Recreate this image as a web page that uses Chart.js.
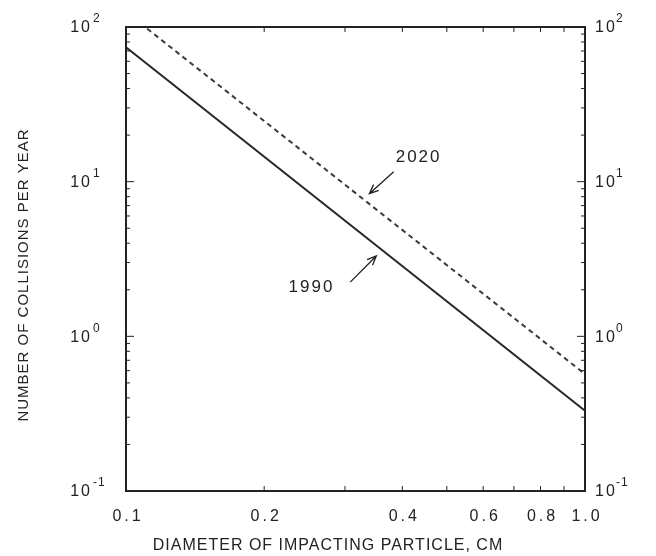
<!DOCTYPE html>
<html>
<head>
  <style>
    body {
        margin: 0;
        background: #fff;
    }
    #chart {
        display: block;
    }
  </style>
</head>
<body>
    <canvas id="chart" width="656" height="556"></canvas>

    <script src="https://cdn.jsdelivr.net/npm/chart.js"></script>
    <script>
        // values (log-log, two end points per line)
        const diameters = [0.1, 1.0];
        const collisions1990 = [74, 0.33];
        const collisions2020 = [125, 0.57];

        const xTickLabels = [0.1, 0.2, 0.4, 0.6, 0.8, 1.0];
        const xMinorTicks = [0.2, 0.3, 0.4, 0.5, 0.6, 0.7, 0.8, 0.9];
        const yDecades = [0.1, 1, 10, 100];
        const yExponents = ['-1', '0', '1', '2'];
        const yMinorTicks = [0.2, 0.3, 0.4, 0.5, 0.6, 0.7, 0.8, 0.9,
                             2, 3, 4, 5, 6, 7, 8, 9,
                             20, 30, 40, 50, 60, 70, 80, 90];

        // labels with arrows, in data units
        const noteText = ['2020', '1990'];
        const noteAt = [[0.434, 14.3], [0.2535, 2.08]];
        const arrowFrom = [[0.383, 11.6], [0.308, 2.24]];
        const arrowTo = [[0.339, 8.36], [0.351, 3.31]];

        const FONT = "'Liberation Sans', Arial, sans-serif";
        const INK = '#222';

        function toPoints(ys) {
            return diameters.map((x, i) => ({ x: x, y: ys[i] }));
        }

        const plotterText = {
            id: 'plotterText',
            afterDraw(chart) {
                const ctx = chart.ctx;
                const a = chart.chartArea;
                const sx = chart.scales.x;
                const sy = chart.scales.y;
                ctx.save();
                ctx.strokeStyle = INK;
                ctx.fillStyle = INK;

                // frame
                ctx.lineWidth = 2;
                ctx.strokeRect(a.left, a.top, a.right - a.left, a.bottom - a.top);

                // inward ticks
                ctx.lineWidth = 1;
                ctx.beginPath();
                xMinorTicks.forEach(v => {
                    const px = sx.getPixelForValue(v);
                    ctx.moveTo(px, a.bottom); ctx.lineTo(px, a.bottom - 5);
                    ctx.moveTo(px, a.top); ctx.lineTo(px, a.top + 5);
                });
                yMinorTicks.forEach(v => {
                    const py = sy.getPixelForValue(v);
                    ctx.moveTo(a.left, py); ctx.lineTo(a.left + 4, py);
                    ctx.moveTo(a.right, py); ctx.lineTo(a.right - 4, py);
                });
                yDecades.forEach(v => {
                    const py = sy.getPixelForValue(v);
                    ctx.moveTo(a.left, py); ctx.lineTo(a.left + 8, py);
                    ctx.moveTo(a.right, py); ctx.lineTo(a.right - 8, py);
                });
                ctx.stroke();

                // x tick labels
                ctx.letterSpacing = '3px';
                ctx.font = '16px ' + FONT;
                ctx.textAlign = 'center';
                ctx.textBaseline = 'middle';
                xTickLabels.forEach(v => {
                    ctx.fillText(v.toFixed(1), sx.getPixelForValue(v) + 2, a.bottom + 26);
                });

                // y tick labels, left and right
                yDecades.forEach((v, i) => {
                    const py = sy.getPixelForValue(v) + 1;
                    ctx.letterSpacing = '2px';
                    ctx.font = '16px ' + FONT;
                    ctx.textAlign = 'right';
                    ctx.fillText('10', a.left - 34, py);
                    ctx.textAlign = 'left';
                    ctx.fillText('10', a.right + 10, py);
                    ctx.letterSpacing = '1px';
                    ctx.font = '12px ' + FONT;
                    ctx.fillText(yExponents[i], a.left - 33, py - 9);
                    ctx.fillText(yExponents[i], a.right + 31, py - 9);
                });

                // axis titles
                ctx.letterSpacing = '1px';
                ctx.font = '16px ' + FONT;
                ctx.textAlign = 'center';
                ctx.fillText('DIAMETER OF IMPACTING PARTICLE, CM', 328, 546);
                ctx.save();
                ctx.translate(24, 275);
                ctx.rotate(-Math.PI / 2);
                ctx.font = '15px ' + FONT;
                ctx.fillText('NUMBER OF COLLISIONS PER YEAR', 0, 0);
                ctx.restore();

                // notes with arrows
                ctx.letterSpacing = '2px';
                ctx.font = '17px ' + FONT;
                noteText.forEach((t, i) => {
                    ctx.textAlign = 'center';
                    ctx.fillText(t, sx.getPixelForValue(noteAt[i][0]), sy.getPixelForValue(noteAt[i][1]));
                    const x0 = sx.getPixelForValue(arrowFrom[i][0]);
                    const y0 = sy.getPixelForValue(arrowFrom[i][1]);
                    const x1 = sx.getPixelForValue(arrowTo[i][0]);
                    const y1 = sy.getPixelForValue(arrowTo[i][1]);
                    const ang = Math.atan2(y1 - y0, x1 - x0);
                    ctx.lineWidth = 1.3;
                    ctx.beginPath();
                    ctx.moveTo(x0, y0); ctx.lineTo(x1, y1);
                    ctx.moveTo(x1 - 10 * Math.cos(ang - 0.4), y1 - 10 * Math.sin(ang - 0.4));
                    ctx.lineTo(x1, y1);
                    ctx.lineTo(x1 - 10 * Math.cos(ang + 0.4), y1 - 10 * Math.sin(ang + 0.4));
                    ctx.stroke();
                });
                ctx.restore();
            }
        };

        const ctx = document.getElementById('chart').getContext('2d');
        const chart = new Chart(ctx, {
            type: 'line',
            data: {
                datasets: [
                    {
                        label: '1990',
                        data: toPoints(collisions1990),
                        borderColor: '#262626',
                        borderWidth: 2,
                        pointRadius: 0,
                        fill: false,
                        clip: 0,
                    },
                    {
                        label: '2020',
                        data: toPoints(collisions2020),
                        borderColor: '#3a3a3a',
                        borderWidth: 2,
                        borderDash: [5, 4],
                        pointRadius: 0,
                        fill: false,
                        clip: 0,
                    },
                ],
            },
            options: {
                responsive: false,
                animation: false,
                layout: {
                    padding: { top: 27, right: 71, left: 0, bottom: 0 },
                },
                plugins: {
                    legend: { display: false },
                    tooltip: { enabled: false },
                },
                scales: {
                    x: {
                        type: 'logarithmic',
                        min: 0.1,
                        max: 1.0,
                        ticks: { display: false },
                        grid: { display: false },
                        border: { display: false },
                        afterFit: s => { s.height = 65; },
                    },
                    y: {
                        type: 'logarithmic',
                        min: 0.1,
                        max: 100,
                        ticks: { display: false },
                        grid: { display: false },
                        border: { display: false },
                        afterFit: s => { s.width = 126; },
                    },
                },
            },
            plugins: [plotterText],
        });
    </script>
</body>
</html>
